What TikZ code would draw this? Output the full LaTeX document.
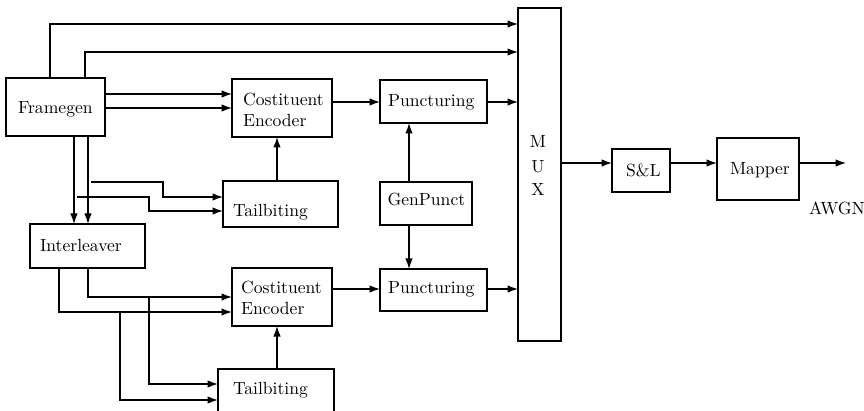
\documentclass[tikz,border=0pt]{standalone}
\usetikzlibrary{calc,arrows.meta}
\begin{document}
\begin{tikzpicture}[x=1pt,y=-1pt,
  line width=1.2pt,
  box/.style={draw, inner sep=0pt, outer sep=0pt},
  lbl/.style={inner sep=0pt, anchor=base west, font=\fontsize{10}{12}\selectfont, scale=1.76},
  arr/.style={-{Latex[length=10.5pt,width=7.5pt]}}]
\useasboundingbox (0,0) rectangle (864,411);
\clip (0,0) rectangle (864,411);
% boxes
\node[box, minimum width=99pt, minimum height=58pt] (fg) at (55.5,107) {};
\node[box, minimum width=100pt, minimum height=58pt] (ce1) at (282,108) {};
\node[box, minimum width=115pt, minimum height=46pt] (tb1) at (280.5,204) {};
\node[box, minimum width=107pt, minimum height=43pt] (p1) at (433.5,101.5) {};
\node[box, minimum width=92pt, minimum height=43pt] (gp) at (426,203.5) {};
\node[box, minimum width=107pt, minimum height=42pt] (p2) at (433.5,290) {};
\node[box, minimum width=100pt, minimum height=58pt] (ce2) at (282,297) {};
\node[box, minimum width=116pt, minimum height=71pt] (tb2) at (276,404.5) {};
\node[box, minimum width=115pt, minimum height=44pt] (il) at (87.5,246) {};
\node[box, minimum width=43pt, minimum height=333pt] (mux) at (539.5,174.5) {};
\node[box, minimum width=58pt, minimum height=43pt] (sl) at (641,170.5) {};
\node[box, minimum width=82pt, minimum height=62pt] (mp) at (758,169) {};
% texts
\node[lbl] (tfg) at (17,114) {Framegen};
\node[lbl] (tce1a) at (242,106) {Costituent};
\node[lbl] (tce1b) at (242,127) {Encoder};
\node[lbl] (ttb1) at (232,216.5) {Tailbiting};
\node[lbl] (tp1) at (387,106.5) {Puncturing};
\node[lbl] (tgp) at (386.5,206) {GenPunct};
\node[lbl] (tp2) at (387,293.5) {Puncturing};
\node[lbl] (tce2a) at (240,294) {Costituent};
\node[lbl] (tce2b) at (240,314.5) {Encoder};
\node[lbl] (ttb2) at (232,394) {Tailbiting};
\node[lbl] (til) at (39,251.5) {Interleaver};
\node[lbl, anchor=base] (tm) at (538,148) {M};
\node[lbl, anchor=base] (tu) at (538,172.5) {U};
\node[lbl, anchor=base] (tx) at (538,196) {X};
\node[lbl] (tsl) at (625,177) {S\&L};
\node[lbl] (tmp) at (729,175) {Mapper};
\node[lbl] (tawgn) at (808,215) {AWGN};
% connectors from Framegen
\draw[arr] ($(fg.north west)+(44,0)$) |- ($(mux.north west)+(0,16)$);
\draw[arr] ($(fg.north west)+(79,0)$) |- ($(mux.north west)+(0,44)$);
\draw[arr] ($(fg.north east)+(0,16)$) -- ($(ce1.north west)+(0,15)$);
\draw[arr] ($(fg.north east)+(0,30)$) -- ($(ce1.north west)+(0,29)$);
\draw[arr] ($(fg.south west)+(68,0)$) -- ($(il.north west)+(44,0)$);
\draw[arr] ($(fg.south west)+(82,0)$) -- ($(il.north west)+(58,0)$);
\coordinate (b1) at (91,182);
\coordinate (b2) at (77,197);
\draw[arr] (b1) -- (163,182) |- ($(tb1.north west)+(0,16)$);
\draw[arr] (b2) -- (149,197) |- ($(tb1.north west)+(0,30)$);
\draw[arr] ($(tb1.north west)+(54,0)$) coordinate (t1) -- (t1 |- ce1.south);
% upper chain
\draw[arr] ($(ce1.north east)+(0,23)$) coordinate (c1) -- (c1 -| p1.west);
\draw[arr] ($(p1.north east)+(0,22)$) coordinate (c2) -- (c2 -| mux.west);
\draw[arr] ($(gp.north west)+(29,0)$) coordinate (g1) -- (g1 |- p1.south);
\draw[arr] ($(gp.south west)+(29,0)$) coordinate (g2) -- (g2 |- p2.north);
% lower chain
\draw[arr] ($(ce2.north east)+(0,21)$) coordinate (c3) -- (c3 -| p2.west);
\draw[arr] ($(p2.north east)+(0,20)$) coordinate (c4) -- (c4 -| mux.west);
\draw[arr] ($(il.south west)+(58,0)$) |- ($(ce2.north west)+(0,29)$);
\draw[arr] ($(il.south west)+(29,0)$) |- ($(ce2.north west)+(0,44)$);
\coordinate (b3) at (149,297);
\coordinate (b4) at (120,312);
\draw[arr] (b3) |- ($(tb2.north west)+(0,15)$);
\draw[arr] (b4) |- ($(tb2.north west)+(0,31)$);
\draw[arr] ($(tb2.north west)+(59,0)$) coordinate (t2) -- (t2 |- ce2.south);
% output chain
\coordinate (s1) at ($(sl.north west)+(0,14)$);
\draw[arr] (s1 -| mux.east) -- (s1);
\draw[arr] ($(sl.north east)+(0,14)$) coordinate (s2) -- (s2 -| mp.west);
\coordinate (out) at (846,163);
\draw[arr] (mp.east |- out) -- (out);
\end{tikzpicture}
\end{document}
